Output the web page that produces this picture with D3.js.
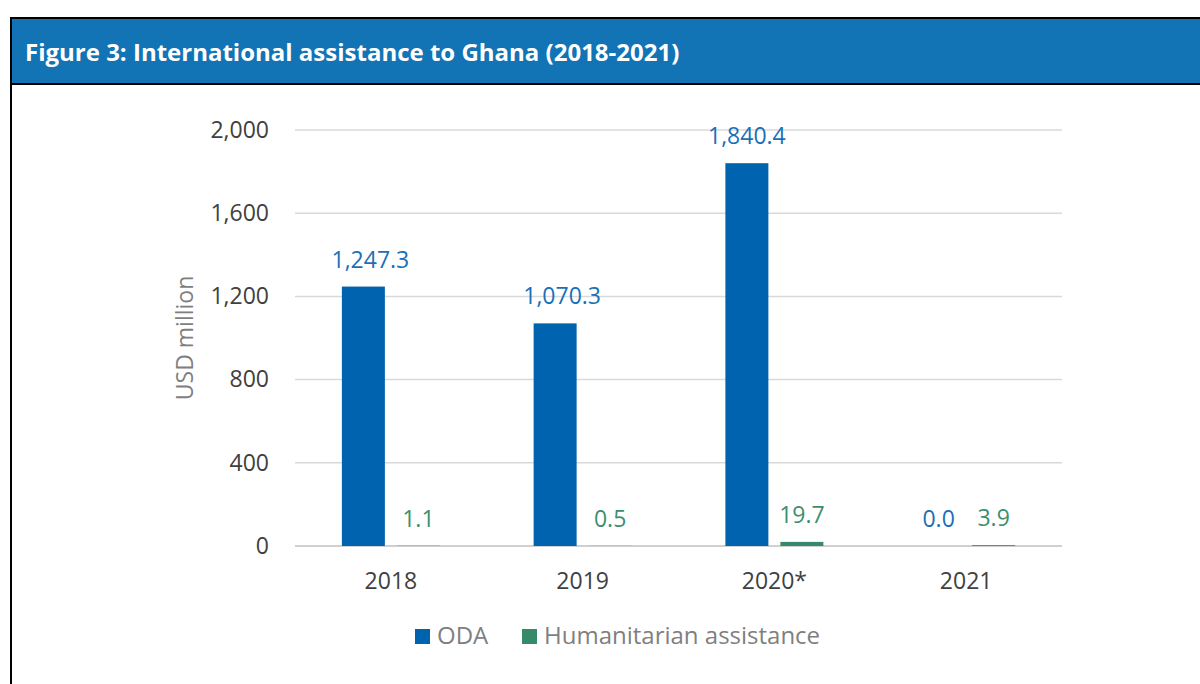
<!DOCTYPE html>
<html>
<head>
<meta charset="utf-8">
<script src="https://cdn.jsdelivr.net/npm/d3@7"></script>
<style>
  body { margin: 0; background: #fff; }
  svg { font-family: "Open Sans", sans-serif; display: block; }
</style>
</head>
<body>
<div id="chart"></div>
<script>
// data
var years = ["2018", "2019", "2020*", "2021"];
var odaValues = [1247.3, 1070.3, 1840.4, 0.0];
var humValues = [1.1, 0.5, 19.7, 3.9];
var seriesNames = ["ODA", "Humanitarian assistance"];
var seriesColors = ["#0063af", "#358a6a"];
var labelColors = ["#1a6fb8", "#3b8f6e"];
var yTicks = [0, 400, 800, 1200, 1600, 2000];

var W = 1200, H = 684;
var fs = "23px";

var svg = d3.select("#chart").append("svg")
    .attr("width", W)
    .attr("height", H);

// frame + header band
svg.append("rect")
    .attr("x", 10).attr("y", 17)
    .attr("width", W).attr("height", 67)
    .attr("fill", "#1273b5");

svg.append("line")
    .attr("x1", 10).attr("x2", W)
    .attr("y1", 18).attr("y2", 18)
    .attr("stroke", "#000").attr("stroke-width", 2);
svg.append("line")
    .attr("x1", 10).attr("x2", W)
    .attr("y1", 84).attr("y2", 84)
    .attr("stroke", "#000").attr("stroke-width", 2);
svg.append("line")
    .attr("x1", 11).attr("x2", 11)
    .attr("y1", 17).attr("y2", H)
    .attr("stroke", "#000").attr("stroke-width", 2);

svg.append("text")
    .attr("x", 25).attr("y", 61)
    .attr("fill", "#fff")
    .attr("font-weight", "bold")
    .attr("font-size", "24px")
    .text("Figure 3: International assistance to Ghana (2018-2021)");

// plot area
var margin = {left: 295, right: 138, top: 130, bottom: 138};
var width = W - margin.left - margin.right;
var height = H - margin.top - margin.bottom;

var g = svg.append("g")
    .attr("transform", "translate(" + margin.left + "," + margin.top + ")");

var x = d3.scaleBand()
    .domain(years)
    .range([0, width])
    .padding(0);

var y = d3.scaleLinear()
    .domain([0, 2000])
    .range([height, 0]);

var barW = 43, gap = 12;

// gridlines
g.selectAll(".grid")
    .data(yTicks)
    .enter().append("line")
    .attr("class", "grid")
    .attr("x1", 0).attr("x2", width)
    .attr("y1", function(d) { return y(d); })
    .attr("y2", function(d) { return y(d); })
    .attr("stroke", function(d) { return d === 0 ? "#d0d0d0" : "#d9d9d9"; })
    .attr("stroke-width", function(d) { return d === 0 ? 2 : 1.5; });

// y axis labels
var yAxis = g.append("g")
    .attr("class", "axis")
    .call(d3.axisLeft(y).tickValues(yTicks).tickSize(0).tickPadding(26).tickFormat(d3.format(",")));
yAxis.select(".domain").remove();
yAxis.selectAll("text")
    .attr("font-size", fs)
    .attr("font-family", "Open Sans, sans-serif")
    .attr("fill", "#404040");

// x axis labels
var xAxis = g.append("g")
    .attr("class", "axis")
    .attr("transform", "translate(0," + height + ")")
    .call(d3.axisBottom(x).tickSize(0).tickPadding(27));
xAxis.select(".domain").remove();
xAxis.selectAll("text")
    .attr("font-size", fs)
    .attr("font-family", "Open Sans, sans-serif")
    .attr("fill", "#404040");

// y title
g.append("text")
    .attr("transform", "rotate(-90)")
    .attr("x", -(y(800) + y(1200)) / 2)
    .attr("y", -102)
    .attr("text-anchor", "middle")
    .attr("font-size", fs)
    .attr("fill", "#7f7f7f")
    .text("USD million");

var series = [odaValues, humValues];
// the first two ODA labels sit a little right of their bars in the original
var labelNudge = {"0-2018": 7, "0-2019": 7};

series.forEach(function(vals, si) {
    var offset = si === 0 ? -gap / 2 - barW : gap / 2;
    var cx = function(i) { return x(years[i]) + x.bandwidth() / 2 + offset; };

    g.selectAll(".bar" + si)
        .data(vals)
        .enter().append("rect")
        .attr("class", "bar" + si)
        .attr("x", function(d, i) { return cx(i); })
        .attr("width", barW)
        .attr("y", function(d) { return y(d); })
        .attr("height", function(d) { return height - y(d); })
        .attr("fill", seriesColors[si]);

    g.selectAll(".lbl" + si)
        .data(vals)
        .enter().append("text")
        .attr("class", "lbl" + si)
        .attr("x", function(d, i) {
            return cx(i) + barW / 2 + (labelNudge[si + "-" + years[i]] || 0);
        })
        .attr("y", function(d) { return y(d) - 19; })
        .attr("text-anchor", "middle")
        .attr("font-size", fs)
        .attr("fill", labelColors[si])
        .text(function(d) { return d3.format(",.1f")(d); });
});

// legend
var legend = svg.append("g").attr("transform", "translate(415,629)");
var legX = [0, 107];
seriesNames.forEach(function(name, i) {
    legend.append("rect")
        .attr("x", legX[i]).attr("y", 0)
        .attr("width", 15).attr("height", 15)
        .attr("fill", seriesColors[i]);
    legend.append("text")
        .attr("x", legX[i] + 22).attr("y", 15)
        .attr("font-size", "24px")
        .attr("fill", "#7f7f7f")
        .text(name);
});
</script>
</body>
</html>
